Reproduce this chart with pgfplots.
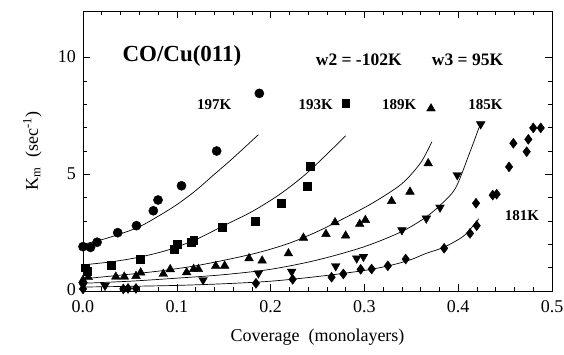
\documentclass[border=0pt]{standalone}
\usepackage{fontspec}
\setmainfont{Liberation Serif}
\usepackage{pgfplots}
\pgfplotsset{compat=1.18}
\begin{document}
\fontsize{18}{21}\selectfont
\begin{tikzpicture}
\useasboundingbox (-83pt,-63pt) rectangle (481pt,291pt);
\begin{axis}[
  at={(0,0)}, anchor=south west,
  scale only axis, width=469pt, height=280pt,
  xmin=0, xmax=0.5, ymin=0, ymax=12,
  xtick={0,0.1,...,0.5}, minor x tick num=4,
  ytick={0,5,10}, minor y tick num=4,
  tick align=inside, major tick length=7pt, minor tick length=4pt,
  xtick pos=both, ytick pos=both,
  xticklabel pos=lower, yticklabel pos=left,
  tick style={black, line width=0.6pt},
  axis line style={line width=0.8pt},
  /pgf/number format/assume math mode=true,
  xticklabel style={/pgf/number format/fixed,/pgf/number format/fixed zerofill,/pgf/number format/precision=1, font=\fontsize{18}{21}\selectfont, yshift=-3pt},
  yticklabel style={font=\fontsize{18}{21}\selectfont, xshift=-1pt, yshift=1pt},
  xlabel={Coverage\ \ (monolayers)},
  ylabel={K\textsubscript{m}\ \ (sec\textsuperscript{-1})},
  xlabel style={font=\fontsize{18}{21}\selectfont, yshift=-4pt},
  ylabel style={font=\fontsize{18}{21}\selectfont, yshift=4pt},
  clip=false,
]
% fitted curves
\addplot[black, line width=0.7pt, smooth, no marks] coordinates {
(0,2.0) (0.02,2.2) (0.04,2.45) (0.06,2.75) (0.08,3.2) (0.10,3.7) (0.12,4.3) (0.14,5.0) (0.16,5.7) (0.187,6.7)};
\addplot[black, line width=0.7pt, smooth, no marks] coordinates {
(0,1.12) (0.03,1.25) (0.06,1.45) (0.09,1.75) (0.12,2.2) (0.15,2.8) (0.18,3.4) (0.21,4.15) (0.24,5.1) (0.28,6.65)};
\addplot[black, line width=0.7pt, smooth, no marks] coordinates {
(0,0.52) (0.04,0.68) (0.08,0.85) (0.12,1.08) (0.16,1.4) (0.19,1.68) (0.22,2.05) (0.25,2.55) (0.28,3.15) (0.31,3.8) (0.34,4.6) (0.36,5.5) (0.372,6.4)};
\addplot[black, line width=0.7pt, smooth, no marks] coordinates {
(0,0.33) (0.05,0.42) (0.1,0.55) (0.15,0.7) (0.2,0.93) (0.25,1.33) (0.3,1.9) (0.34,2.55) (0.365,3.15) (0.38,3.65) (0.397,4.4) (0.412,5.9) (0.424,7.2)};
\addplot[black, line width=0.7pt, smooth, no marks] coordinates {
(0,0.17) (0.05,0.2) (0.1,0.24) (0.15,0.31) (0.2,0.42) (0.25,0.62) (0.3,0.88) (0.33,1.12) (0.35,1.35) (0.365,1.6) (0.385,1.88) (0.405,2.33) (0.415,2.75) (0.422,3.1)};
% data: 197K circles
\addplot[only marks, mark=*, mark size=4.6pt, black] coordinates {
(0.0,1.90) (0.008,1.87) (0.015,2.09) (0.037,2.50) (0.057,2.80) (0.075,3.44) (0.080,3.90) (0.105,4.51) (0.1425,6.0) (0.188,8.47)};
% 193K squares
\addplot[only marks, mark=square*, mark size=3.9pt, black] coordinates {
(0.002,1.0) (0.005,0.86) (0.030,1.11) (0.061,1.37) (0.097,1.80) (0.1005,2.0) (0.115,2.09) (0.118,2.18) (0.148,2.73) (0.184,3.0) (0.211,3.76) (0.239,4.5) (0.242,5.35) (0.280,8.04)};
% 189K triangles
\addplot[only marks, mark=triangle*, mark size=5pt, black] coordinates {
(0.0,0.47) (0.0056,0.59) (0.035,0.61) (0.044,0.61) (0.0565,0.64) (0.0615,0.79) (0.0856,0.73) (0.093,0.93) (0.1105,0.80) (0.118,0.94) (0.123,0.94) (0.1415,1.07) (0.151,1.08) (0.177,1.40) (0.191,1.30) (0.219,1.61) (0.235,2.28) (0.259,2.44) (0.2687,2.94) (0.280,2.37) (0.295,2.87) (0.301,3.04) (0.329,3.85) (0.3486,4.25) (0.368,5.47) (0.371,7.82)};
% 185K inverted triangles
\addplot[only marks, mark=triangle*, mark size=5pt, mark options={rotate=180}, black] coordinates {
(0.0,0.25) (0.0235,0.23) (0.128,0.47) (0.187,0.76) (0.2225,0.83) (0.2694,1.07) (0.2918,1.40) (0.299,1.47) (0.340,2.61) (0.366,3.11) (0.3806,3.58) (0.399,4.97) (0.424,7.15)};
% 181K diamonds
\addplot[only marks, mark=diamond*, mark size=5pt, black] coordinates {
(0.0,0.09) (0.043,0.09) (0.048,0.11) (0.0565,0.11) (0.1844,0.33) (0.2235,0.50) (0.265,0.59) (0.2775,0.73) (0.296,0.93) (0.3077,0.94) (0.325,1.08) (0.344,1.37) (0.385,1.83) (0.4126,2.47) (0.4197,2.80) (0.419,3.76) (0.4368,4.11) (0.441,4.15) (0.4542,5.32) (0.4588,6.33) (0.473,5.97) (0.4748,6.5) (0.480,6.99) (0.488,6.99)};
% annotations
\node[font=\fontsize{23}{26}\selectfont\bfseries] at (axis cs:0.1055,10.06) {CO/Cu(011)};
\node[font=\fontsize{17.5}{20}\selectfont\bfseries] at (axis cs:0.294,9.89) {w2 = -102K};
\node[font=\fontsize{17.5}{20}\selectfont\bfseries] at (axis cs:0.410,9.89) {w3 = 95K};
\node[font=\fontsize{15}{18}\selectfont\bfseries] at (axis cs:0.140,8.0) {197K};
\node[font=\fontsize{15}{18}\selectfont\bfseries] at (axis cs:0.248,8.0) {193K};
\node[font=\fontsize{15}{18}\selectfont\bfseries] at (axis cs:0.337,8.0) {189K};
\node[font=\fontsize{15}{18}\selectfont\bfseries] at (axis cs:0.429,8.0) {185K};
\node[font=\fontsize{15}{18}\selectfont\bfseries] at (axis cs:0.468,3.25) {181K};
\end{axis}
\end{tikzpicture}
\end{document}
